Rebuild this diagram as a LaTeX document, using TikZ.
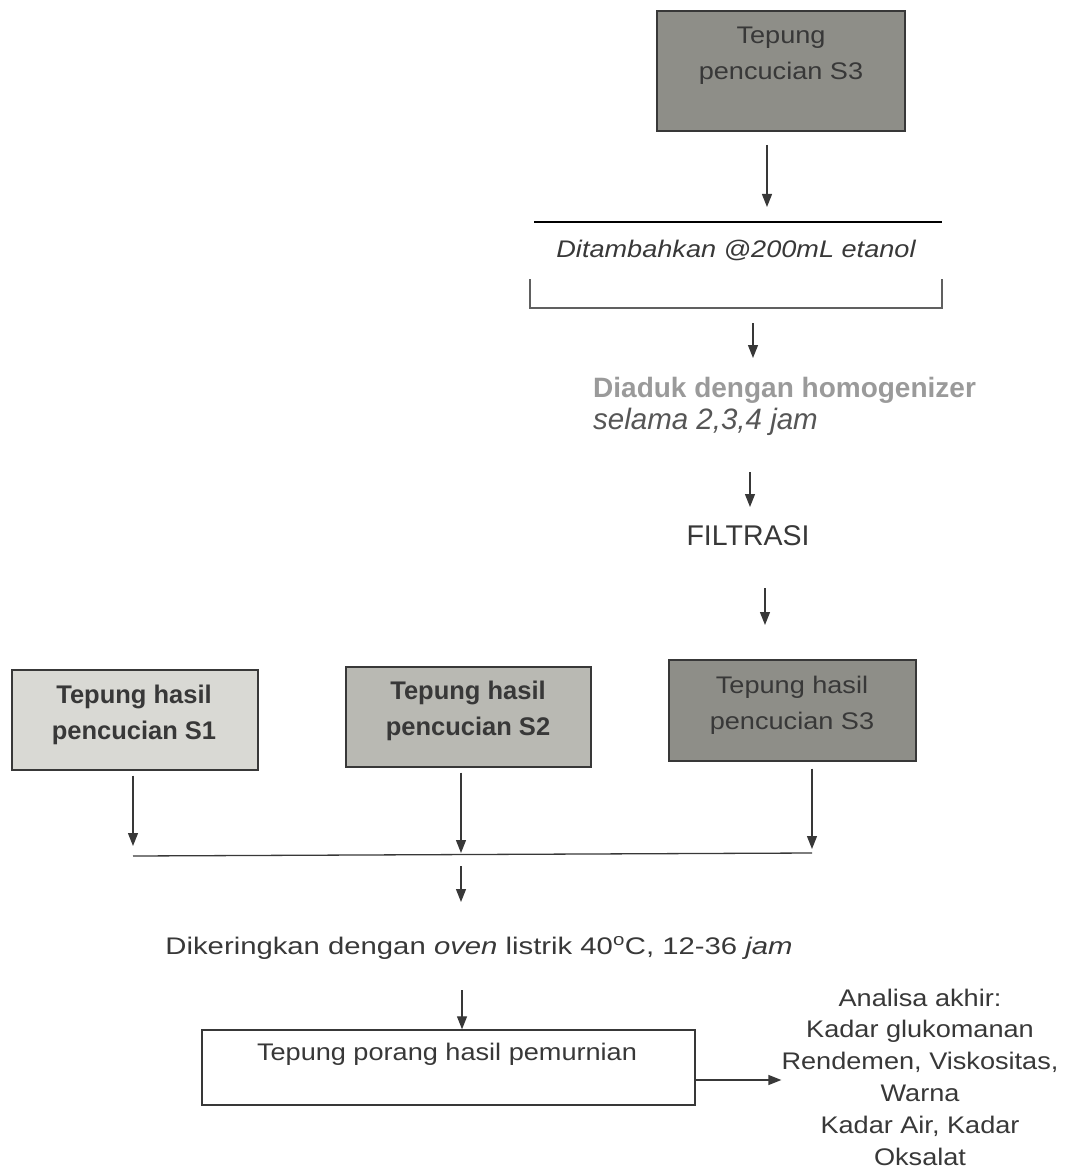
\documentclass[tikz,border=0pt]{standalone}
\usepackage{fontspec}
\setmainfont{Liberation Sans}[FakeStretch=1.13]
\newfontfamily\plainsans{Liberation Sans}
\newfontfamily\drysans{Liberation Sans}[FakeStretch=1.22]
\usetikzlibrary{arrows.meta}
\definecolor{ink}{HTML}{383838}
\definecolor{mist}{HTML}{9A9A9A}
\definecolor{shadeA}{HTML}{D9D9D4}
\definecolor{shadeB}{HTML}{B9B9B3}
\definecolor{shadeC}{HTML}{8E8E88}
\begin{document}
\begin{tikzpicture}[x=1pt,y=-1pt,
  box/.style={draw=ink, line width=1.4pt, inner sep=0pt},
  lbl/.style={text=ink, font=\fontsize{24}{36}\selectfont, align=center, inner sep=0pt},
  boldlbl/.style={lbl, font=\plainsans\bfseries\fontsize{25.5}{36}\selectfont},
  arr/.style={draw=ink, line width=1.3pt, -{Triangle[width=10pt,length=13pt]}}]
\useasboundingbox (0,0) rectangle (1067,1169);

% --- upper branch: washing flour S3 with ethanol ---
\node[box, fill=shadeC, minimum width=248pt, minimum height=120pt] (top) at (781,71) {};
\node[lbl] (toptxt) at (781,56) {Tepung\\pencucian S3};

\coordinate (a1s) at (767,145);
\coordinate (a1e) at (767,207);
\draw[arr] (a1s) -- (a1e);

\coordinate (lineL) at (534,222);
\coordinate (lineR) at (942,222);
\draw[black, line width=2pt] (lineL) -- (lineR);
\node[lbl, font=\fontsize{24}{36}\selectfont\itshape] (add) at (736,250) {Ditambahkan @200mL etanol};
\coordinate (bkTL) at (530,279);
\coordinate (bkBL) at (530,308);
\coordinate (bkBR) at (942,308);
\coordinate (bkTR) at (942,279);
\draw[ink!80, line width=1.2pt] (bkTL) -- (bkBL) -- (bkBR) -- (bkTR);

\coordinate (a2s) at (753,323);
\coordinate (a2e) at (753,358);
\draw[arr] (a2s) -- (a2e);

\node[lbl, anchor=west, align=left, font=\plainsans\fontsize{28}{32}\selectfont] (stir) at (593,406)
  {\textcolor{mist}{\bfseries Diaduk dengan homogenizer}\\\textcolor{ink!85}{\itshape\fontsize{29.5}{32}\selectfont selama 2,3,4 jam}};

\coordinate (a3s) at (750,472);
\coordinate (a3e) at (750,507);
\draw[arr] (a3s) -- (a3e);

\node[lbl, font=\plainsans\fontsize{28.5}{32}\selectfont] (filt) at (748,536) {FILTRASI};

\coordinate (a4s) at (765,588);
\coordinate (a4e) at (765,625);
\draw[arr] (a4s) -- (a4e);

% --- the three washed flours ---
\node[box, fill=shadeA, minimum width=246pt, minimum height=100pt] (s1) at (135,720) {};
\node[boldlbl] (s1txt) at (134,715) {Tepung hasil\\pencucian S1};
\node[box, fill=shadeB, minimum width=245pt, minimum height=100pt] (s2) at (468.5,717) {};
\node[boldlbl] (s2txt) at (468,711) {Tepung hasil\\pencucian S2};
\node[box, fill=shadeC, minimum width=247pt, minimum height=101pt] (s3) at (792.5,710.5) {};
\node[lbl] (s3txt) at (792,705) {Tepung hasil\\pencucian S3};

\coordinate (m1) at (133,856);
\coordinate (m2) at (461,856);
\coordinate (m3) at (812,853);
\draw[ink, line width=1.3pt] (m1) -- (m3);
\draw[arr] (s1.south -| m1) ++(0,5) -- ([yshift=10pt]m1);
\draw[arr] (s2.south -| m2) ++(0,5) -- ([yshift=3pt]m2);
\draw[arr] (s3.south -| m3) ++(0,7) -- ([yshift=4pt]m3);

\coordinate (a8s) at (461,866);
\coordinate (a8e) at (461,902);
\draw[arr] (a8s) -- (a8e);

\node[lbl, font=\drysans\fontsize{24}{30}\selectfont] (dry) at (479,948)
  {Dikeringkan dengan \textit{oven} listrik 40\textsuperscript{o}C, 12-36 \textit{jam}};

% --- final product and analyses ---
\node[box, fill=white, minimum width=493pt, minimum height=75pt] (bot) at (448.5,1067.5) {};
\node[lbl] (bottxt) at (447,1054) {Tepung porang hasil pemurnian};
\coordinate (a9s) at (462,990);
\draw[arr] (a9s) -- (a9s |- bot.north);

\node[lbl, font=\fontsize{24}{31.8}\selectfont] (ana) at (920,1077)
  {Analisa akhir:\\Kadar glukomanan\\Rendemen, Viskositas,\\Warna\\Kadar Air, Kadar\\Oksalat};
\coordinate (bx) at (695,1080);
\draw[arr] (bx) -- (bx -| ana.west);
\end{tikzpicture}
\end{document}
